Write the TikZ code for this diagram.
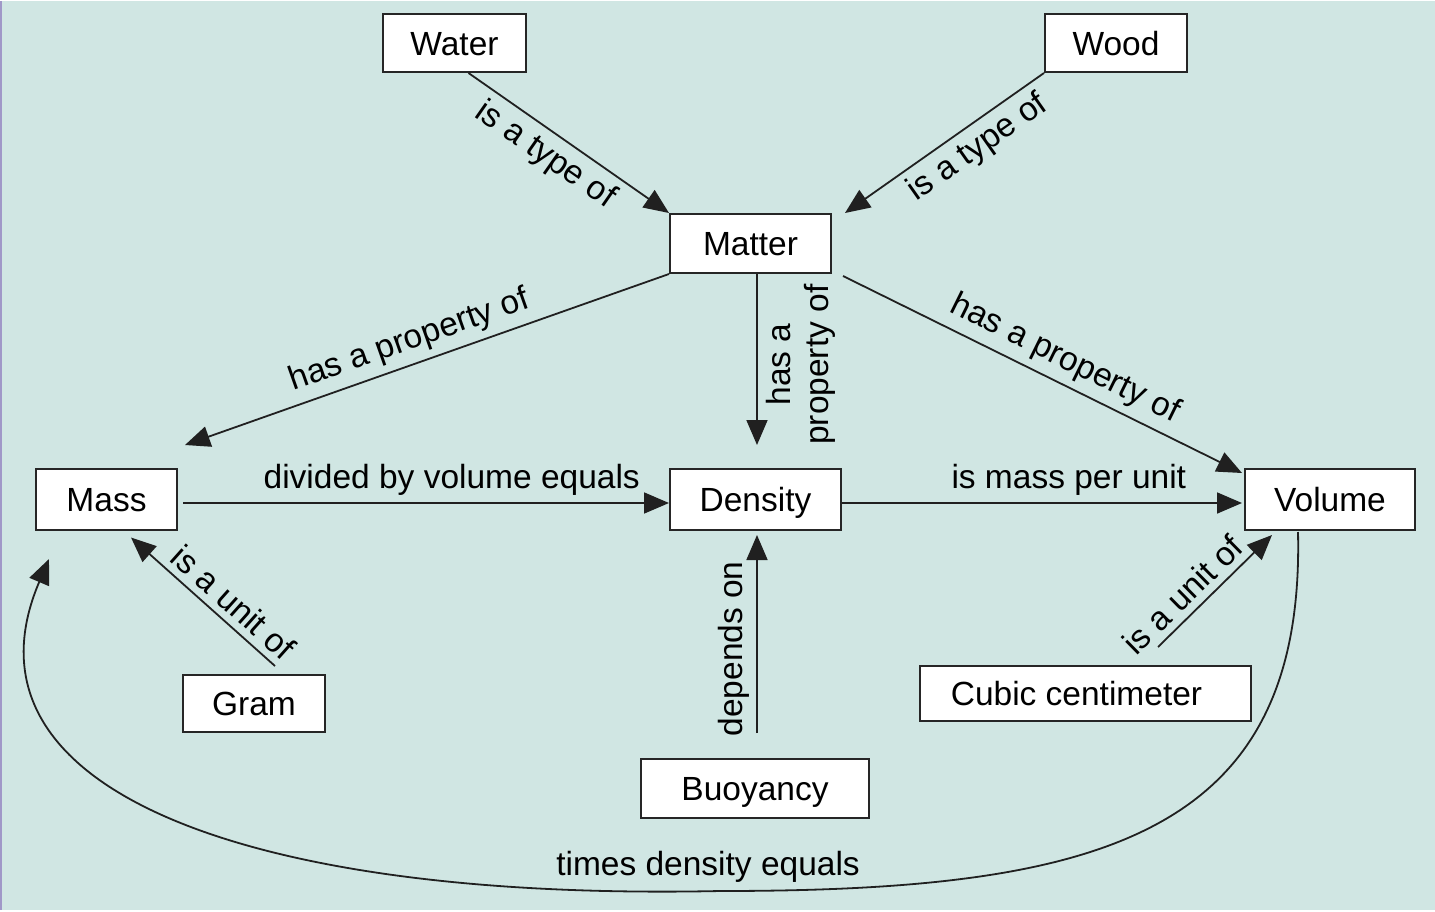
\documentclass[tikz,border=0pt]{standalone}
\usepackage{fontspec}
\setmainfont{Liberation Sans}
\usetikzlibrary{arrows.meta,calc}
\definecolor{bgteal}{RGB}{208,230,227}
\definecolor{edgeline}{RGB}{160,152,200}
\definecolor{linkgray}{RGB}{32,32,32}
\begin{document}
\begin{tikzpicture}[x=1pt,y=-1pt,
  concept/.style={draw=black!85, line width=2pt, fill=white, inner sep=0pt,
    text height=24pt, text depth=0pt, font=\fontsize{33.5}{40}\selectfont},
  link/.style={draw=linkgray, line width=1.8pt, -{Triangle[length=25pt,width=21pt]}},
  lbl/.style={font=\fontsize{33.5}{38}\selectfont, inner sep=7pt, sloped}
]
\fill[bgteal] (0,0) rectangle (1435,909);
\draw[edgeline, line width=2pt] (1,0) -- (1,909);
\useasboundingbox (0,0) rectangle (1435,909);

\node[concept, minimum width=143pt, minimum height=58pt] (water) at (454.5,42) {Water};
\node[concept, minimum width=142pt, minimum height=58pt] (wood) at (1116,42) {Wood};
\node[concept, minimum width=161pt, minimum height=59pt] (matter) at (750.5,242.5) {Matter};
\node[concept, minimum width=141pt, minimum height=61pt] (mass) at (106.5,498.5) {Mass};
\node[concept, minimum width=171pt, minimum height=61pt] (density) at (755.5,498.5) {Density};
\node[concept, minimum width=170pt, minimum height=61pt] (volume) at (1330,498.5) {Volume};
\node[concept, minimum width=142pt, minimum height=57pt] (gram) at (254,702.5) {Gram};
\node[concept, minimum width=228pt, minimum height=59pt] (buoy) at (755,787.5) {Buoyancy};
\node[concept, minimum width=331pt, minimum height=55pt] (cubic) at (1085.5,692.5) {\hspace*{-18pt}Cubic centimeter};

\draw[link] ($(water.south)+(14,0)$) -- node[lbl, below, pos=0.45]{is a type of} (matter.north west);
\draw[link] (wood.south west) -- node[lbl, below, pos=0.4]{is a type of} ($(matter.north east)+(13,0)$);
\draw[link] (matter.south west) -- node[lbl, above, pos=0.52]{has a property of} ($(mass.north east)+(7,-23)$);
\draw[link] ($(matter.south)+(6.5,0)$) -- node[pos=0.53, anchor=north, rotate=90, align=center,
  font=\fontsize{33.5}{38}\selectfont, inner sep=8pt]{has a\\property of} ($(density.north)+(1.5,-23)$);
\draw[link] ($(matter.south east)+(11,2)$) -- node[lbl, above, pos=0.53]{has a property of} ($(volume.north west)+(-2,5)$);
\draw[link] ($(mass.east)+(5,3.5)$) -- node[lbl, above, pos=0.553]{divided by volume equals} ($(density.west)+(0,3.5)$);
\draw[link] ($(density.east)+(0,3.5)$) -- node[lbl, above, pos=0.567]{is mass per unit} ($(volume.west)+(-2,3.5)$);
\draw[link] ($(gram.north)+(21,-8)$) -- node[lbl, above, pos=0.38]{is a unit of} ($(mass.south)+(24.5,6.5)$);
\draw[link] ($(buoy.north)+(2,-25)$) -- node[lbl, above, pos=0.425]{depends on} ($(density.south)+(1.5,4)$);
\draw[link] ($(cubic.north)+(72.5,-18)$) -- node[lbl, above, pos=0.34]{is a unit of} ($(volume.south)+(-58,4)$);
\draw[link] ($(volume.south)+(-32,1)$) .. controls (1305,835) and (1100,890) .. (720,890)
  node[anchor=south, font=\fontsize{33.5}{38}\selectfont, inner sep=4pt, xshift=-12pt, yshift=4pt]{times density equals}
  .. controls (250,900) and (-50,790) .. ($(mass.south west)+(14,28)$);
\end{tikzpicture}
\end{document}
